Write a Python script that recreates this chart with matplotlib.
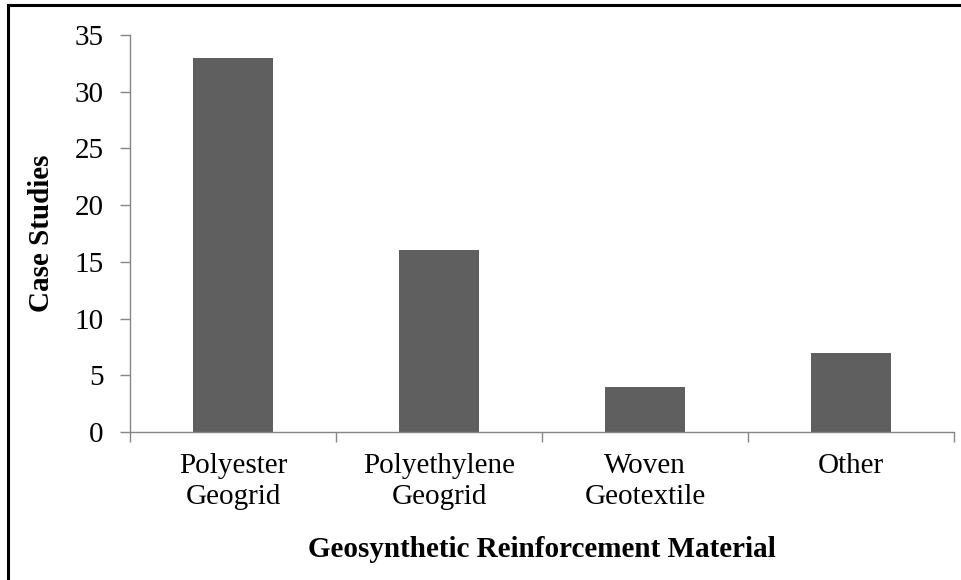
import matplotlib.pyplot as plt
from matplotlib.lines import Line2D

categories = ["Polyester\nGeogrid", "Polyethylene\nGeogrid", "Woven\nGeotextile", "Other"]
case_studies = [33, 16, 4, 7]
y_ticks = [0, 5, 10, 15, 20, 25, 30, 35]

plt.rcParams['font.family'] = ['Liberation Serif', 'DejaVu Serif']

fig = plt.figure(figsize=(9.62, 5.80), dpi=100)
ax = fig.add_axes([0.1351, 0.2552, 0.8566, 0.6845])

pos = list(range(len(categories)))
ax.bar(pos, case_studies, width=0.39, color="#5f5f5f", zorder=2)

ax.set_xlim(-0.5, len(categories) - 0.5)
ax.set_ylim(0, 35)
ax.set_yticks(y_ticks)
ax.set_yticklabels([str(v) for v in y_ticks], fontsize=21)

# boundary ticks between categories, labels centred under bars
ax.set_xticks([p - 0.5 for p in pos] + [len(categories) - 0.5])
ax.set_xticklabels([])
ax.set_xticks(pos, minor=True)
ax.set_xticklabels(categories, minor=True, fontsize=21, linespacing=1.25)
ax.tick_params(axis="x", which="minor", length=0, pad=15)
ax.tick_params(axis="x", which="major", length=7, width=1, color="#868686", direction="out")
ax.tick_params(axis="y", length=7, width=1, color="#868686", direction="out", pad=12)

for s in ["top", "right"]:
    ax.spines[s].set_visible(False)
for s in ["left", "bottom"]:
    ax.spines[s].set_color("#868686")
    ax.spines[s].set_linewidth(1)

ax.set_ylabel("Case Studies", fontsize=21, fontweight="bold", labelpad=14)
ax.set_xlabel("Geosynthetic Reinforcement Material", fontsize=21, fontweight="bold", labelpad=19)

# outer frame (left and top edges visible)
fig.add_artist(Line2D([8 / 962, 8 / 962], [0, 1 - 5 / 580], transform=fig.transFigure, color="black", lw=2.2))
fig.add_artist(Line2D([8 / 962, 1], [1 - 5 / 580, 1 - 5 / 580], transform=fig.transFigure, color="black", lw=2.2))

fig.savefig("out.png", dpi=100)
